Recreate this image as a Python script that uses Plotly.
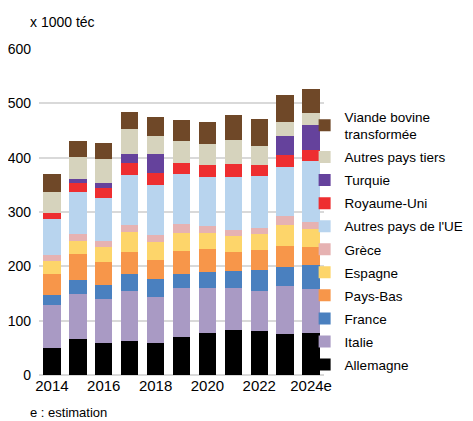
import plotly.graph_objects as go

years = ["2014", "2015", "2016", "2017", "2018", "2019", "2020", "2021", "2022", "2023", "2024e"]

# milliers de tonnes équivalent carcasse
allemagne = [50, 66, 58, 63, 59, 70, 78, 82, 81, 75, 78]
italie = [79, 83, 82, 92, 85, 91, 83, 78, 74, 88, 80]
france = [19, 26, 26, 30, 32, 25, 28, 31, 39, 36, 44]
pays_bas = [37, 48, 42, 42, 35, 43, 43, 36, 36, 39, 34]
espagne = [24, 24, 28, 37, 34, 33, 29, 28, 29, 38, 33]
grece = [11, 12, 10, 12, 13, 16, 13, 11, 12, 16, 12]
autres_ue = [67, 77, 79, 92, 91, 92, 90, 99, 96, 90, 112]
royaume_uni = [11, 18, 20, 23, 23, 20, 22, 23, 19, 23, 21]
turquie = [0, 7, 8, 16, 34, 0, 0, 0, 0, 34, 47]
autres_tiers = [39, 41, 45, 45, 34, 40, 39, 45, 35, 26, 22]
viande_transf = [33, 28, 29, 32, 35, 39, 41, 45, 51, 51, 44]

x_ticks = ["2014", "2016", "2018", "2020", "2022", "2024e"]

series = [
    ("Allemagne", allemagne, "#000000"),
    ("Italie", italie, "#a99ac4"),
    ("France", france, "#4a80bf"),
    ("Pays-Bas", pays_bas, "#f7964a"),
    ("Espagne", espagne, "#fdd56a"),
    ("Grèce", grece, "#e6b2b2"),
    ("Autres pays de l'UE", autres_ue, "#b8d4ee"),
    ("Royaume-Uni", royaume_uni, "#ee2e30"),
    ("Turquie", turquie, "#65429c"),
    ("Autres pays tiers", autres_tiers, "#d6d3bd"),
    ("Viande bovine<br>transformée", viande_transf, "#6f4828"),
]

FONT = "Liberation Sans, Arial, sans-serif"

fig = go.Figure()
for i, (name, vals, col) in enumerate(series):
    fig.add_trace(go.Bar(
        x=years, y=vals, name=name, legendgroup=name,
        legendrank=len(series) - i,
        marker=dict(color=col, line=dict(width=0)),
    ))

# the page body keeps its 8px margin, so the layout is shifted by 8px
fig.update_layout(
    barmode="stack",
    bargap=0.33,
    width=473, height=421,
    margin=dict(l=31, r=147, t=41, b=54),
    plot_bgcolor="white",
    paper_bgcolor="white",
    font=dict(family=FONT, size=14, color="#000000"),
    xaxis=dict(
        type="category",
        tickmode="array", tickvals=x_ticks, ticktext=x_ticks,
        tickfont=dict(size=15), tickangle=0, automargin=False,
        showgrid=False, showline=False, ticks="",
    ),
    yaxis=dict(
        range=[0, 600], dtick=100, automargin=False,
        showgrid=True, gridcolor="#d9d9d9", gridwidth=2,
        zeroline=True, zerolinecolor="#d9d9d9", zerolinewidth=2,
        tickfont=dict(size=14), ticks="", ticklabelstandoff=7,
    ),
    legend=dict(
        traceorder="grouped",
        tracegroupgap=2.5,
        x=0.932, xanchor="left",
        y=0.84, yanchor="top",
        font=dict(size=13.5),
        bgcolor="rgba(0,0,0,0)",
    ),
    showlegend=True,
    annotations=[
        dict(text="x 1000 téc", xref="paper", yref="paper",
             x=-0.037, y=1.083, xanchor="left", yanchor="middle",
             showarrow=False, font=dict(size=14)),
        dict(text="e : estimation", xref="paper", yref="paper",
             x=-0.037, y=-0.1135, xanchor="left", yanchor="middle",
             showarrow=False, font=dict(size=13)),
    ],
)

fig.write_html("out.html")
